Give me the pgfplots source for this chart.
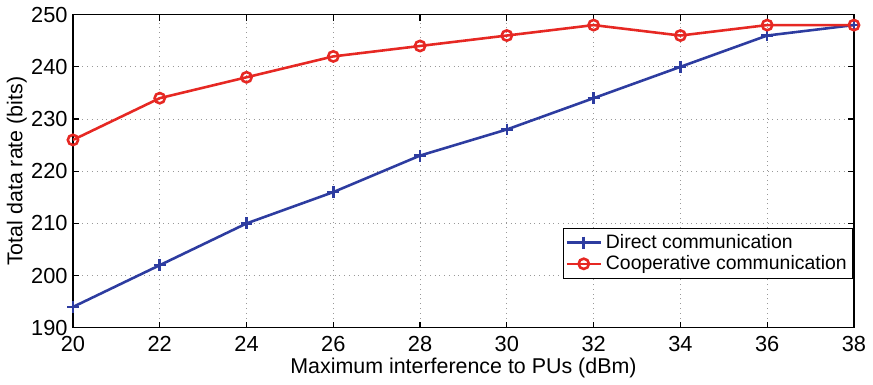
\documentclass[border=0pt]{standalone}
\usepackage{fontspec}
\setmainfont{Liberation Sans}
\usepackage{pgfplots}
\pgfplotsset{compat=1.18}
\definecolor{mblue}{RGB}{45,60,160}
\definecolor{mred}{RGB}{230,40,35}
\begin{document}
\fontsize{10.5}{12}\selectfont
\begin{tikzpicture}
\begin{axis}[
  scale only axis,
  width=394pt, height=158pt,
  xmin=20, xmax=38, ymin=190, ymax=250,
  xtick={20,22,...,38}, ytick={190,200,...,250},
  tick align=inside, tick pos=both,
  major tick length=3pt,
  grid=major,
  grid style={dotted, gray!80, line width=0.4pt},
  axis line style={line width=0.6pt},
  tick style={line width=0.6pt, black},
  /pgf/number format/assume math mode=true,
  ticklabel style={font=\fontsize{11}{12}\selectfont},
  xticklabel style={yshift=-0.5pt},
  yticklabel style={xshift=1pt},
  label style={font=\fontsize{10.8}{12}\selectfont},
  xlabel={Maximum interference to PUs (dBm)},
  ylabel={Total data rate (bits)},
  xlabel style={yshift=4pt},
  ylabel style={yshift=-5pt},
  legend style={at={(0.999,0.32)}, anchor=north east, draw=black, line width=0.5pt,
    font=\fontsize{9.8}{11}\selectfont, inner sep=1pt, row sep=-2pt},
  legend cell align=left,
  legend image code/.code={\draw[mark repeat=2,mark phase=2] plot coordinates {(0cm,0cm) (0.3cm,0cm) (0.6cm,0cm)};},
]
\addplot[mblue, line width=1.3pt, mark=+, mark size=3pt, mark options={line width=1.3pt}] coordinates {
(20,194) (22,202) (24,210) (26,216) (28,223) (30,228) (32,234) (34,240) (36,246) (38,248)};
\addlegendentry{Direct communication}
\addplot[mred, line width=1.3pt, mark=o, mark size=2.6pt, mark options={line width=1.3pt}] coordinates {
(20,226) (22,234) (24,238) (26,242) (28,244) (30,246) (32,248) (34,246) (36,248) (38,248)};
\addlegendentry{Cooperative communication}
\end{axis}
\end{tikzpicture}
\end{document}
